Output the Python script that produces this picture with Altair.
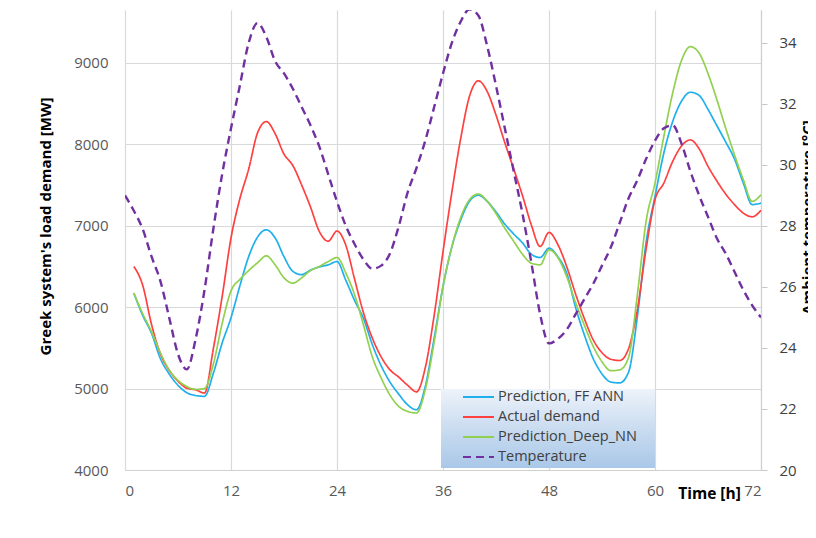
import altair as alt
import pandas as pd

# ---------------- data ----------------
hours_load = list(range(1, 73))
ff_ann = [6172, 5900, 5680, 5370, 5180, 5040, 4950, 4915, 4905, 5188, 5560, 5870,
          6260, 6620, 6860, 6950, 6850, 6620, 6440, 6400, 6455, 6495, 6520, 6560,
          6330, 6080, 5860, 5540, 5280, 5080, 4930, 4800, 4740, 5030, 5620, 6254,
          6740, 7070, 7300, 7375, 7300, 7170, 7020, 6900, 6790, 6650, 6610, 6725,
          6620, 6418, 6000, 5660, 5370, 5180, 5080, 5070, 5200, 5880, 6800, 7360,
          7893, 8280, 8530, 8640, 8600, 8430, 8230, 8030, 7820, 7524, 7260, 7278]
actual = [6500, 6270, 5790, 5430, 5225, 5090, 5005, 4985, 4945, 5490, 6130, 6850,
          7330, 7695, 8140, 8280, 8130, 7880, 7740, 7500, 7230, 6930, 6810, 6935,
          6760, 6340, 5930, 5620, 5390, 5230, 5140, 5040, 4960, 5260, 5900, 6680,
          7410, 8070, 8590, 8780, 8650, 8360, 8020, 7700, 7370, 7010, 6745, 6918,
          6770, 6500, 6165, 5860, 5600, 5440, 5360, 5345, 5490, 5970, 6720, 7320,
          7524, 7790, 7980, 8055, 7945, 7730, 7550, 7390, 7260, 7155, 7110, 7190]
deep_nn = [6172, 5920, 5700, 5440, 5230, 5100, 5025, 4990, 5000, 5300, 5800, 6200,
           6340, 6450, 6545, 6630, 6520, 6360, 6295, 6360, 6450, 6500, 6560, 6610,
           6420, 6150, 5780, 5390, 5130, 4920, 4780, 4720, 4700, 4990, 5570, 6254,
           6740, 7100, 7320, 7390, 7300, 7150, 6970, 6810, 6650, 6540, 6520, 6705,
           6610, 6377, 6060, 5780, 5520, 5330, 5220, 5230, 5380, 6150, 7060, 7524,
           8098, 8630, 9030, 9200, 9120, 8870, 8550, 8200, 7870, 7565, 7300, 7381]
hours_temp = list(range(0, 73))
temperature = [29.0, 28.5, 27.9, 27.0, 26.2, 25.0, 23.8, 23.3, 24.3, 25.9, 27.9, 29.7,
               31.2, 32.6, 34.0, 34.65, 34.2, 33.4, 33.0, 32.5, 31.9, 31.3, 30.6, 29.7,
               28.8, 28.0, 27.4, 26.9, 26.6, 26.7, 27.1, 28.0, 29.1, 29.9, 30.8, 31.9,
               33.0, 34.0, 34.7, 35.1, 34.9, 33.9, 32.6, 31.2, 29.8, 28.4, 26.8, 25.1,
               24.15, 24.3, 24.6, 25.1, 25.6, 26.1, 26.7, 27.3, 28.1, 28.9, 29.5, 30.2,
               30.8, 31.2, 31.3, 30.7, 29.8, 29.0, 28.3, 27.6, 27.1, 26.5, 25.9, 25.4, 25.0]

series_names = ["Prediction, FF ANN", "Actual demand", "Prediction_Deep_NN", "Temperature"]
series_colors = ["#1fb0ec", "#ff4040", "#92d050", "#7030a0"]
series_dashes = [[1, 0], [1, 0], [1, 0], [8, 5]]

x_ticks = list(range(0, 73, 12))
load_ticks = [4000, 5000, 6000, 7000, 8000, 9000]
temp_ticks = [20, 22, 24, 26, 28, 30, 32, 34]

load_df = pd.concat([
    pd.DataFrame({"hour": hours_load, "value": ff_ann, "series": series_names[0]}),
    pd.DataFrame({"hour": hours_load, "value": actual, "series": series_names[1]}),
    pd.DataFrame({"hour": hours_load, "value": deep_nn, "series": series_names[2]}),
], ignore_index=True)
temp_df = pd.DataFrame({"hour": hours_temp, "value": temperature, "series": series_names[3]})

# ---------------- styling ----------------
FONT = "Open Sans, sans-serif"

x_axis = alt.Axis(values=x_ticks, grid=True, gridColor="#d9d9d9", gridWidth=1.2,
                  ticks=False, domainColor="#d0d0d0", domainWidth=1.2,
                  labelColor="#595959", labelFont=FONT, labelFontSize=15, labelPadding=13,
                  title="Time [h]", titleFont=FONT, titleFontWeight="bold", titleFontSize=15.5,
                  titleColor="#000000", titleX=584, titleY=23, titleBaseline="middle",
                  titleAlign="center")
x_scale = alt.Scale(domain=[0, 72], nice=False, zero=False)

left_scale = alt.Scale(domain=[4000, 9650], nice=False, zero=False)
left_axis = alt.Axis(values=load_ticks, format="d", grid=True, gridColor="#d9d9d9",
                     gridWidth=1.2, ticks=False, domain=False, labelColor="#595959",
                     labelFont=FONT, labelFontSize=15, labelPadding=17,
                     title="Greek system's load demand [MW]", titleFont=FONT,
                     titleFontWeight="bold", titleFontSize=15, titleColor="#000000",
                     titleX=-80, titleY=216, titleAngle=270, titleBaseline="middle",
                     titleAlign="center")

right_scale = alt.Scale(domain=[20, 35.08], nice=False, zero=False)
right_axis = alt.Axis(values=temp_ticks, format="d", grid=False, orient="right",
                      ticks=True, tickSize=6, tickColor="#c8c8c8", domainColor="#d0d0d0",
                      domainWidth=1.2, labelColor="#404040", labelFont=FONT, labelFontSize=15,
                      labelPadding=12, title="Ambient temperature [°C]", titleFont=FONT,
                      titleFontWeight="bold", titleFontSize=15, titleColor="#000000",
                      titleX=39, titleY=207, titleAngle=270, titleBaseline="top",
                      titleAlign="center")

legend = alt.Legend(title=None, orient="none", legendX=337, legendY=377,
                    symbolType="stroke", symbolSize=961, symbolStrokeWidth=2,
                    labelFont=FONT, labelFontSize=14.5, labelColor="#404040",
                    labelOffset=3, rowPadding=0, clipHeight=20, padding=0)
color_enc = alt.Color("series:N", scale=alt.Scale(domain=series_names, range=series_colors),
                      legend=legend)
dash_enc = alt.StrokeDash("series:N", scale=alt.Scale(domain=series_names, range=series_dashes),
                          legend=legend)

x_enc = alt.X("hour:Q", scale=x_scale, axis=x_axis)

legend_box = alt.Chart(load_df).mark_rect(
    color=alt.Gradient(gradient="linear", x1=0, y1=0, x2=0, y2=1,
                       stops=[alt.GradientStop(color="#eef3fa", offset=0),
                              alt.GradientStop(color="#cadcf0", offset=0.5),
                              alt.GradientStop(color="#a9c8e8", offset=1)])
).encode(
    x=alt.XDatum(35.8, scale=x_scale, axis=x_axis),
    x2=alt.datum(60),
    y=alt.YDatum(4025, scale=left_scale, axis=left_axis),
    y2=alt.datum(4995),
)

load_lines = alt.Chart(load_df).mark_line(strokeWidth=1.7, interpolate="monotone", clip=True).encode(
    x=x_enc,
    y=alt.Y("value:Q", scale=left_scale, axis=left_axis),
    color=color_enc,
    strokeDash=dash_enc,
    order=alt.Order("hour:Q"),
)

temp_line = alt.Chart(temp_df).mark_line(strokeWidth=2.4, interpolate="monotone", clip=True).encode(
    x=x_enc,
    y=alt.Y("value:Q", scale=right_scale, axis=right_axis),
    color=color_enc,
    strokeDash=dash_enc,
    order=alt.Order("hour:Q"),
)

left_part = alt.layer(legend_box, load_lines)
chart = alt.layer(left_part, temp_line).resolve_scale(y="independent").properties(
    width=636, height=460,
    autosize=alt.AutoSizeParams(type="none"),
    padding={"left": 117, "top": 2, "right": 47, "bottom": 60},
    background="white",
).configure_view(stroke=None)

chart.save("out.html", embed_options={"renderer": "svg", "actions": False})
